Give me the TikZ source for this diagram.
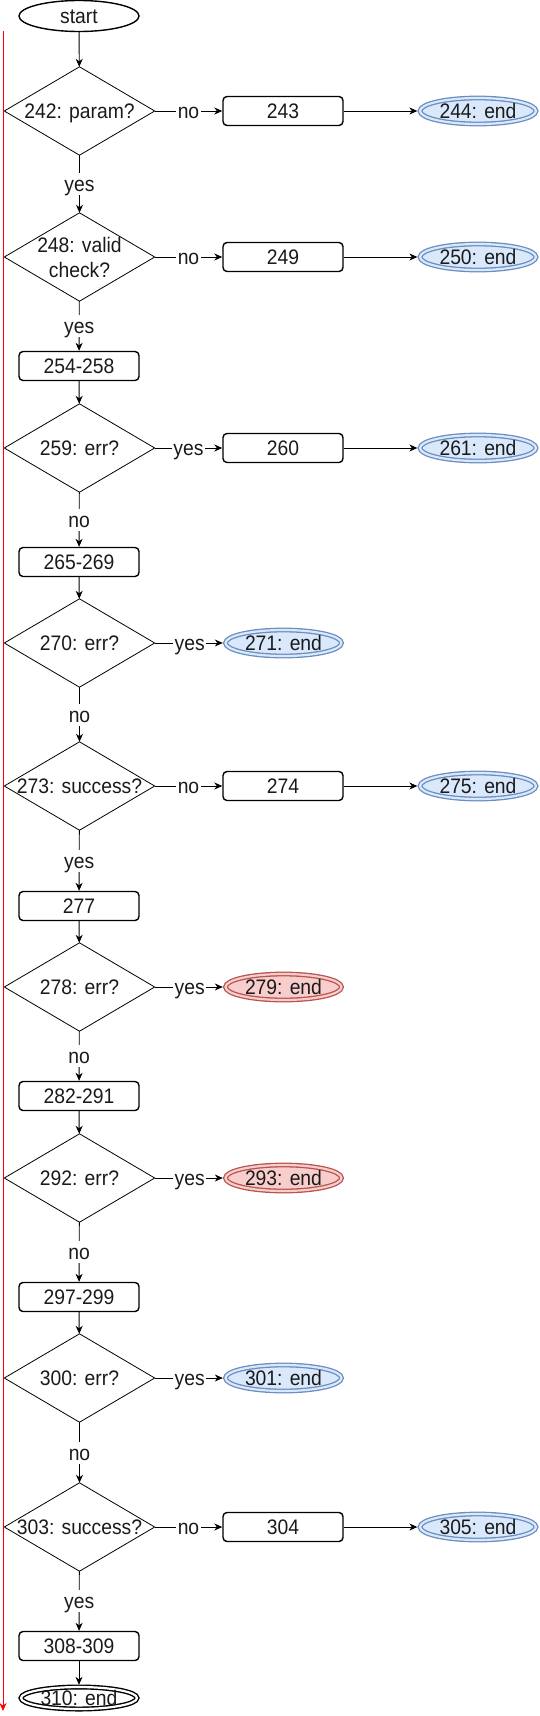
\documentclass[tikz,border=0pt]{standalone}
\usepackage{fontspec}
\setmainfont{Liberation Sans}[FakeStretch=0.92]
\usetikzlibrary{shapes.geometric,arrows.meta}
\definecolor{bluestroke}{HTML}{6C8EBF}
\definecolor{bluefill}{HTML}{DAE8FC}
\definecolor{redstroke}{HTML}{B85450}
\definecolor{redfill}{HTML}{F8CECC}
\definecolor{txt}{HTML}{1A1A1A}
\tikzset{
  base/.style={font=\fontsize{21}{25}\selectfont, text=txt, inner sep=0pt},
  one/.style={text height=15pt, text depth=0pt},
  proc/.style={base, one, draw, line width=1.4pt, rounded corners=4pt, minimum width=120pt, minimum height=29pt},
  dec/.style={base, align=center, minimum width=150pt, minimum height=88pt},
  diam/.style={draw, line width=0.8pt},
  term/.style={base, one, ellipse, draw, line width=1.4pt, fill=white, minimum width=120pt, minimum height=31pt},
  endblue/.style={base, one, ellipse, draw=bluestroke, fill=bluefill, double=bluefill, double distance=2.2pt, line width=1.3pt, minimum width=116pt, minimum height=26pt},
  endred/.style={base, one, ellipse, draw=redstroke, fill=redfill, double=redfill, double distance=2.2pt, line width=1.3pt, minimum width=116pt, minimum height=26pt},
  endblack/.style={base, one, ellipse, draw=black, fill=white, double=white, double distance=2.2pt, line width=1.4pt, minimum width=116pt, minimum height=22pt},
  arr/.style={-{Stealth[length=8pt,width=7pt,inset=2.5pt]}, line width=0.9pt},
  lab/.style={base, fill=white, inner sep=1.5pt, text height=17pt, text depth=2pt}
}
\begin{document}
\begin{tikzpicture}[x=1pt,y=-1pt]
\useasboundingbox (0,0) rectangle (540,1716);
% main column
\node[term] (start) at (79,16) {start};
\node[dec,one] (d242) at (79.5,111) {242: param?};
\node[dec] (d248) at (79.5,257) {248: valid\\check?};
\node[proc] (b254) at (79,366) {254-258};
\node[dec,one] (d259) at (79.5,448) {259: err?};
\node[proc] (b265) at (79,562) {265-269};
\node[dec,one] (d270) at (79.5,643) {270: err?};
\node[dec,one] (d273) at (79.5,786) {273: success?};
\node[proc] (b277) at (79,906) {277};
\node[dec,one] (d278) at (79.5,987) {278: err?};
\node[proc] (b282) at (79,1096) {282-291};
\node[dec,one] (d292) at (79.5,1178) {292: err?};
\node[proc] (b297) at (79,1297) {297-299};
\node[dec,one] (d300) at (79.5,1378) {300: err?};
\node[dec,one] (d303) at (79.5,1527) {303: success?};
\node[proc] (b308) at (79,1646) {308-309};
\node[endblack] (e310) at (79,1698) {310: end};
% right side
\node[proc] (b243) at (283,111) {243};
\node[endblue] (e244) at (478,111) {244: end};
\node[proc] (b249) at (283,257) {249};
\node[endblue] (e250) at (478,257) {250: end};
\node[proc] (b260) at (283,448) {260};
\node[endblue] (e261) at (478,448) {261: end};
\node[endblue] (e271) at (283.5,643) {271: end};
\node[proc] (b274) at (283,786) {274};
\node[endblue] (e275) at (478,786) {275: end};
\node[endred] (e279) at (283.5,987) {279: end};
\node[endred] (e293) at (283.5,1178) {293: end};
\node[endblue] (e301) at (283.5,1378) {301: end};
\node[proc] (b304) at (283,1527) {304};
\node[endblue] (e305) at (478,1527) {305: end};
% diamonds
\foreach \n in {d242,d248,d259,d270,d273,d278,d292,d300,d303}
  \draw[diam] (\n.north) -- (\n.east) -- (\n.south) -- (\n.west) -- cycle;
% vertical flow
\draw[arr] (start) -- (d242);
\draw[arr] (d242) -- node[lab]{yes} (d248);
\draw[arr] (d248) -- node[lab]{yes} (b254);
\draw[arr] (b254) -- (d259);
\draw[arr] (d259) -- node[lab]{no} (b265);
\draw[arr] (b265) -- (d270);
\draw[arr] (d270) -- node[lab]{no} (d273);
\draw[arr] (d273) -- node[lab]{yes} (b277);
\draw[arr] (b277) -- (d278);
\draw[arr] (d278) -- node[lab]{no} (b282);
\draw[arr] (b282) -- (d292);
\draw[arr] (d292) -- node[lab]{no} (b297);
\draw[arr] (b297) -- (d300);
\draw[arr] (d300) -- node[lab]{no} (d303);
\draw[arr] (d303) -- node[lab]{yes} (b308);
\draw[arr, shorten >=1.5pt] (b308) -- (e310);
% horizontal branches
\draw[arr] (d242) -- node[lab]{no} (b243);
\draw[arr, shorten >=2pt] (b243) -- (e244);
\draw[arr] (d248) -- node[lab]{no} (b249);
\draw[arr, shorten >=2pt] (b249) -- (e250);
\draw[arr] (d259) -- node[lab]{yes} (b260);
\draw[arr, shorten >=2pt] (b260) -- (e261);
\draw[arr, shorten >=2pt] (d270) -- node[lab]{yes} (e271);
\draw[arr] (d273) -- node[lab]{no} (b274);
\draw[arr, shorten >=2pt] (b274) -- (e275);
\draw[arr, shorten >=2pt] (d278) -- node[lab]{yes} (e279);
\draw[arr, shorten >=2pt] (d292) -- node[lab]{yes} (e293);
\draw[arr, shorten >=2pt] (d300) -- node[lab]{yes} (e301);
\draw[arr] (d303) -- node[lab]{no} (b304);
\draw[arr, shorten >=2pt] (b304) -- (e305);
% red timeline
\coordinate (rtop) at (3,31);
\coordinate (rbot) at (3,1711);
\draw[arr, red, line width=0.8pt] (rtop) -- (rbot);
\end{tikzpicture}
\end{document}
